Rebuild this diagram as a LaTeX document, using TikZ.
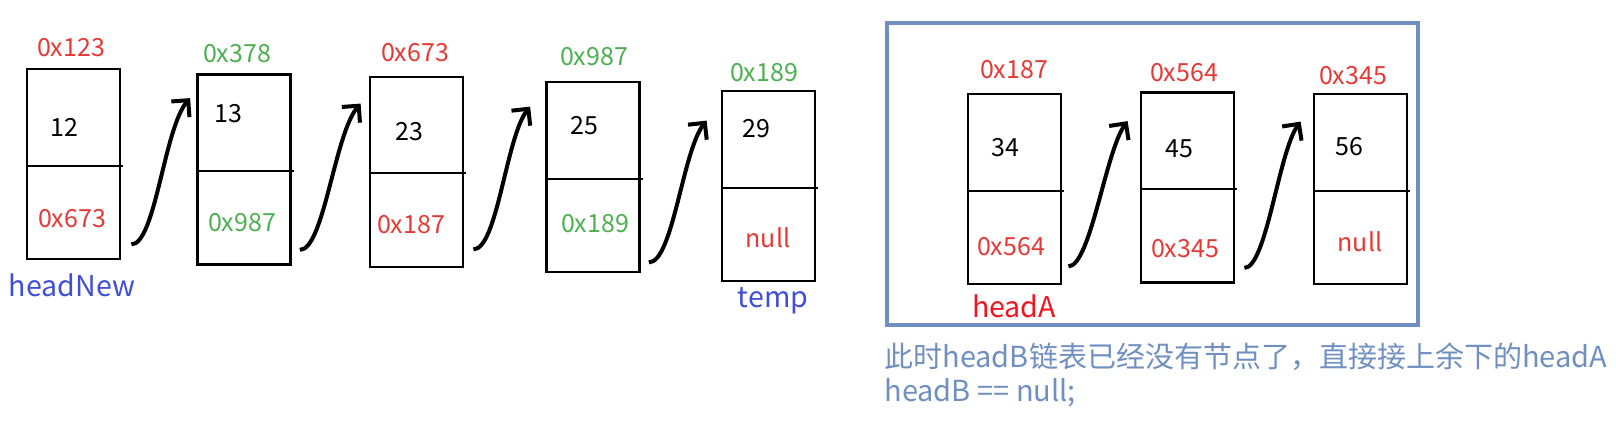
\documentclass[tikz,border=0pt]{standalone}
\usepackage{fontspec}
\setmainfont{Noto Sans CJK SC}
\usepackage{xcolor}
\usetikzlibrary{arrows.meta}

\definecolor{addrred}{HTML}{E53935}
\definecolor{addrgreen}{HTML}{4CAF50}
\definecolor{ptrblue}{HTML}{3F4FD6}
\definecolor{headred}{HTML}{F0141E}
\definecolor{frameblue}{HTML}{6F8FC0}

\begin{document}
\begin{tikzpicture}[x=0.5pt,y=-0.5pt,
  cell/.style={draw,line width=1.4pt,minimum width=46.5pt,minimum height=95pt,inner sep=0pt},
  divider/.style={line width=1.4pt},
  addr/.style={font=\fontsize{12.5}{14}\selectfont},
  val/.style={font=\fontsize{12.5}{14}\selectfont},
  ptr/.style={font=\fontsize{14.3}{17}\selectfont},
  note/.style={font=\fontsize{14.5}{17}\selectfont,text=frameblue,anchor=west,inner sep=0pt},
  link/.style={line width=2pt,-{Straight Barb[length=6pt,width=12pt]}}]
  \useasboundingbox (0,0) rectangle (1616,425);

  % merged list headNew ... temp
  \node[cell] (b1) at (73.5,164) {};
  \node[cell] (b2) at (244,169.5) {};
  \node[cell] (b3) at (416.5,172) {};
  \node[cell] (b4) at (593,177) {};
  \node[cell] (b5) at (768.5,186) {};

  % rest of headA
  \node[cell] (b6) at (1014.5,189) {};
  \node[cell] (b7) at (1187.5,187.5) {};
  \node[cell] (b8) at (1360.5,189) {};

  % data | next
  \foreach \b/\d in {b1/166,b2/171,b3/173,b4/179,b5/188,b6/191,b7/189,b8/191}
    \draw[divider] (\b.west |- 0,\d) -- ([xshift=1pt]\b.east |- 0,\d);

  % addresses
  \node[addr,text=addrred] (a1) at (71,48) {0x123};
  \node[addr,text=addrgreen] (a2) at (237,54) {0x378};
  \node[addr,text=addrred] (a3) at (415,53) {0x673};
  \node[addr,text=addrgreen] (a4) at (594,57) {0x987};
  \node[addr,text=addrgreen] (a5) at (764,73) {0x189};
  \node[addr,text=addrred] (a6) at (1014,70) {0x187};
  \node[addr,text=addrred] (a7) at (1184,73) {0x564};
  \node[addr,text=addrred] (a8) at (1353,76) {0x345};

  % values
  \node[val] (v1) at (64,127) {12};
  \node[val] (v2) at (228,114) {13};
  \node[val] (v3) at (409,132) {23};
  \node[val] (v4) at (584,126) {25};
  \node[val] (v5) at (756,129) {29};
  \node[val] (v6) at (1005,148) {34};
  \node[val] (v7) at (1179,149) {45};
  \node[val] (v8) at (1349,147) {56};

  % next fields
  \node[val,text=addrred] (n1) at (72,219) {0x673};
  \node[val,text=addrgreen] (n2) at (242,223) {0x987};
  \node[val,text=addrred] (n3) at (411,225) {0x187};
  \node[val,text=addrgreen] (n4) at (595,224) {0x189};
  \node[val,text=addrred] (n5) at (768,238) {null};
  \node[val,text=addrred] (n6) at (1011,247) {0x564};
  \node[val,text=addrred] (n7) at (1185,249) {0x345};
  \node[val,text=addrred] (n8) at (1360,242) {null};

  % pointers
  \node[ptr,text=ptrblue] (headNew) at (72,285) {headNew};
  \node[ptr,text=ptrblue] (temp) at (773,301) {temp};
  \node[ptr,text=headred] (headA) at (1014,306) {headA};

  % links
  \draw[link] ([xshift=5pt,yshift=8pt]b1.south east) .. controls +(24,0) and +(-26,30) .. ([xshift=-3pt,yshift=-12.5pt]b2.north west);
  \draw[link] ([xshift=4pt,yshift=8pt]b2.south east) .. controls +(24,0) and +(-26,30) .. ([xshift=-4pt,yshift=-14pt]b3.north west);
  \draw[link] ([xshift=4.5pt,yshift=9.5pt]b3.south east) .. controls +(24,0) and +(-24,30) .. ([xshift=-7.5pt,yshift=-13pt]b4.north west);
  \draw[link] ([xshift=4pt,yshift=5.5pt]b4.south east) .. controls +(24,0) and +(-24,30) .. ([xshift=-7pt,yshift=-15.5pt]b5.north west);
  \draw[link] ([xshift=3pt,yshift=9.5pt]b6.south east) .. controls +(22,0) and +(-22,30) .. ([xshift=-6pt,yshift=-15pt]b7.north west);
  \draw[link] ([xshift=4.5pt,yshift=8pt]b7.south east) .. controls +(22,0) and +(-22,30) .. ([xshift=-6pt,yshift=-14.5pt]b8.north west);

  % headB is empty
  \draw[frameblue,line width=1.8pt] (887,23) rectangle (1418,325);
  \node[note] (note1) at (884,357) {此时headB链表已经没有节点了，直接接上余下的headA};
  \node[note] (note2) at (884,393) {headB == null;};
\end{tikzpicture}
\end{document}
